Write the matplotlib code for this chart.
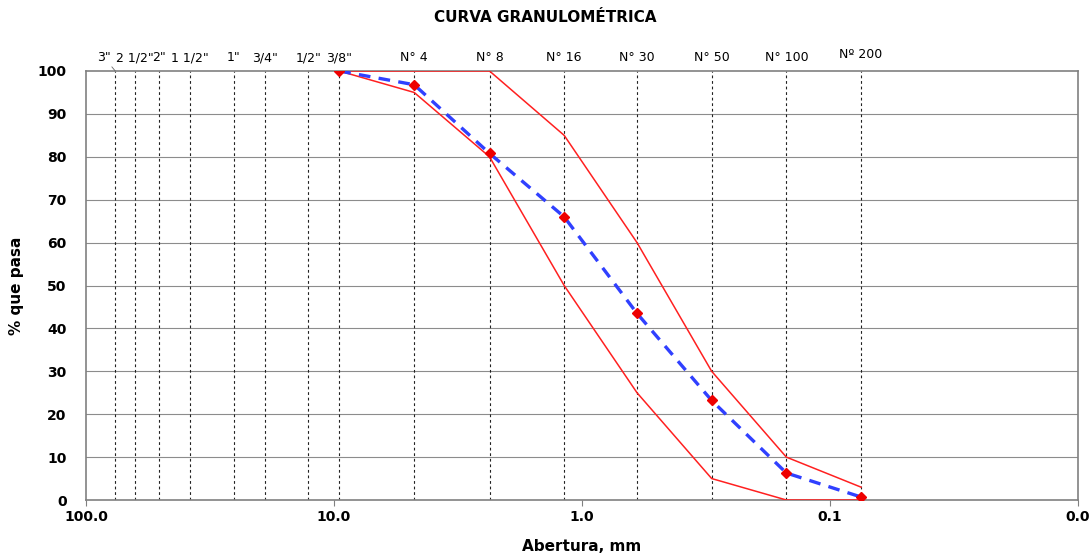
"""
Curva granulométrica: % que pasa vs abertura de tamiz (escala log invertida).
"""

import matplotlib

matplotlib.use("Agg")
import matplotlib.pyplot as plt

# tamices (mm) y sus nombres
sieve_labels = ['3"', '2 1/2"', '2"', '1 1/2"', '1"', '3/4"', '1/2"', '3/8"',
                "N° 4", "N° 8", "N° 16", "N° 30", "N° 50", "N° 100", "Nº 200"]
sieve_mm = [76.2, 63.5, 50.8, 38.1, 25.4, 19.05, 12.7, 9.525,
            4.75, 2.36, 1.18, 0.6, 0.3, 0.15, 0.075]

# muestra y límites del huso (desde 3/8")
data_mm = [9.525, 4.75, 2.36, 1.18, 0.6, 0.3, 0.15, 0.075]
pct_pasa = [100.0, 96.8, 80.8, 66.0, 43.5, 23.2, 6.3, 0.7]
lim_sup = [100, 100, 100, 85, 60, 30, 10, 3]
lim_inf = [100, 95, 80, 50, 25, 5, 0, 0]

x_ticks = [100, 10, 1, 0.1, 0.01]
x_tick_labels = ["100.0", "10.0", "1.0", "0.1", "0.0"]


def main() -> None:
    fig = plt.figure(figsize=(10.9, 5.54), dpi=100)
    ax = fig.add_axes([86 / 1090, 54 / 554, 992 / 1090, 429 / 554])

    ax.set_xscale("log")
    ax.set_xlim(100, 0.01)
    ax.set_ylim(0, 100)

    for y in range(10, 100, 10):
        ax.axhline(y, color="#8c8c8c", linewidth=0.8, zorder=1)

    for mm in sieve_mm:
        ax.plot([mm, mm], [0, 100], color="#222222", linestyle=(0, (2.5, 2.5)),
                linewidth=0.8, zorder=2)

    ax.plot(data_mm, lim_sup, color="#ff2020", linewidth=1.1, zorder=3)
    ax.plot(data_mm, lim_inf, color="#ff2020", linewidth=1.1, zorder=3)
    ax.plot(data_mm, pct_pasa, color="#3040ff", linewidth=2.4,
            linestyle=(0, (3.5, 2.5)), zorder=4)
    ax.plot(data_mm, pct_pasa, linestyle="none", marker="D", markersize=5.5,
            color="#ee0000", zorder=5)

    # nombres de tamices arriba
    for name, mm in zip(sieve_labels, sieve_mm):
        if name == '3"':
            ax.annotate(name, xy=(mm, 100), xytext=(-8, 5),
                        textcoords="offset points", ha="center", va="bottom",
                        fontsize=9,
                        arrowprops=dict(arrowstyle="-", color="#666666",
                                        linewidth=0.6, shrinkA=0, shrinkB=0))
        else:
            dy = 7 if name.startswith("Nº") else 5
            ax.annotate(name, xy=(mm, 100), xytext=(0, dy),
                        textcoords="offset points", ha="center", va="bottom",
                        fontsize=9)

    ax.set_xticks(x_ticks)
    ax.set_xticklabels(x_tick_labels, fontweight="bold", fontsize=10)
    ax.minorticks_off()
    ax.set_yticks(range(0, 101, 10))
    ax.set_yticklabels([str(v) for v in range(0, 101, 10)],
                       fontweight="bold", fontsize=10)
    ax.tick_params(axis="x", length=4, width=0.8, color="#808080", pad=3)
    ax.tick_params(axis="y", length=0, pad=14)

    for side in ["left", "bottom", "right", "top"]:
        ax.spines[side].set_color("#808080")
        ax.spines[side].set_linewidth(1.2)

    ax.set_xlabel("Abertura, mm", fontweight="bold", fontsize=11)
    ax.xaxis.set_label_coords(0.5, -0.09)
    ax.set_ylabel("% que pasa", fontweight="bold", fontsize=11, labelpad=10)
    fig.text(0.5, 1 - 18 / 554, "CURVA GRANULOMÉTRICA", ha="center",
             va="center", fontweight="bold", fontsize=11)

    fig.savefig("out.png", dpi=100)
    plt.close(fig)


if __name__ == "__main__":
    main()
